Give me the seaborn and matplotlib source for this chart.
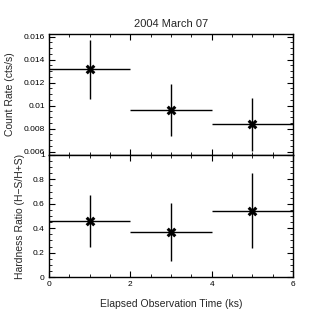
import matplotlib
matplotlib.use("Agg")
import matplotlib.pyplot as plt
import seaborn as sns
import pandas as pd
from matplotlib.ticker import MultipleLocator

sns.set_theme(style="ticks")
plt.rcParams['font.family'] = ['Liberation Sans', 'DejaVu Sans']

time_ks = [1, 3, 5]
time_err = [1, 1, 1]
count_rate = [0.01315, 0.00965, 0.0084]
count_err = [0.0026, 0.00225, 0.0023]
hardness = [0.46, 0.37, 0.545]
hard_err = [0.215, 0.24, 0.31]

df = pd.DataFrame({"t": time_ks, "rate": count_rate, "hr": hardness})

fig = plt.figure(figsize=(3.26, 3.26), dpi=100)
ax1 = fig.add_axes([49/326, 1-155/326, 244/326, 121/326])
ax2 = fig.add_axes([49/326, 1-277/326, 244/326, 122/326], sharex=ax1)

for ax, col, err in [(ax1, "rate", count_err), (ax2, "hr", hard_err)]:
    ax.errorbar(df["t"], df[col], xerr=time_err, yerr=err, fmt="none",
                ecolor="black", elinewidth=1.0, capsize=0)
    sns.scatterplot(data=df, x="t", y=col, ax=ax, marker="x", s=30,
                    color="black", linewidth=2.2, zorder=5)
    ax.tick_params(direction="in", which="both", top=True, right=True,
                   labelsize=6, colors="black", pad=3)
    ax.tick_params(which="major", length=4, width=0.8)
    ax.tick_params(which="minor", length=2, width=0.6)
    for s in ax.spines.values():
        s.set_linewidth(1.0)
        s.set_color("black")
    ax.xaxis.set_major_locator(MultipleLocator(2))
    ax.xaxis.set_minor_locator(MultipleLocator(0.5))

ax1.set_xlim(0, 6)
ax1.set_ylim(0.00571, 0.01623)
ax1.set_yticks([0.006, 0.008, 0.01, 0.012, 0.014, 0.016])
ax1.set_yticklabels(["0.006", "0.008", "0.01", "0.012", "0.014", "0.016"])
ax1.yaxis.set_minor_locator(MultipleLocator(0.0005))
ax1.tick_params(labelbottom=False)
ax1.set_xlabel("")
ax1.set_ylabel("Count Rate (cts/s)", fontsize=7.5, labelpad=6)
ax1.set_title("2004 March 07", fontsize=8, pad=5)

ax2.set_ylim(0, 1)
ax2.set_yticks([0, 0.2, 0.4, 0.6, 0.8, 1.0])
ax2.set_yticklabels(["0", "0.2", "0.4", "0.6", "0.8", "1"])
ax2.yaxis.set_minor_locator(MultipleLocator(0.05))
ax2.set_xticks([0, 2, 4, 6])
ax2.set_xticklabels(["0", "2", "4", "6"])
ax2.set_xlabel("Elapsed Observation Time (ks)", fontsize=7.5, labelpad=8)
ax2.set_ylabel("Hardness Ratio (H\u2212S/H+S)", fontsize=7.5, labelpad=6)

fig.savefig("out.png", dpi=100)
